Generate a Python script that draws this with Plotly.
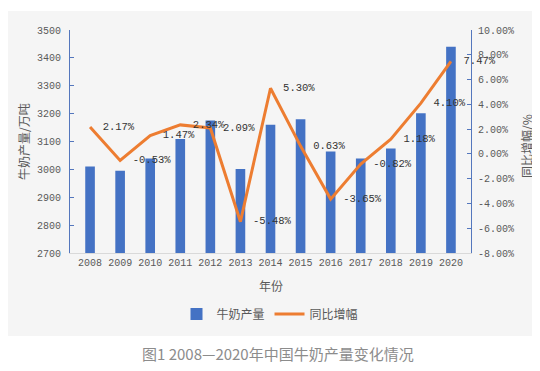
import plotly.graph_objects as go

years = ["2008", "2009", "2010", "2011", "2012", "2013", "2014",
         "2015", "2016", "2017", "2018", "2019", "2020"]
milk_output = [3010, 2995, 3039, 3109, 3175, 3001, 3160,
               3180, 3064, 3039, 3075, 3201, 3440]
growth_pct = [2.17, -0.53, 1.47, 2.34, 2.09, -5.48, 5.30,
              0.63, -3.65, -0.82, 1.18, 4.10, 7.47]
left_ticks = [2700, 2800, 2900, 3000, 3100, 3200, 3300, 3400, 3500]
right_ticks = [-8, -6, -4, -2, 0, 2, 4, 6, 8, 10]

MONO = "Liberation Mono, DejaVu Sans Mono, Noto Sans CJK SC, monospace"
CJK = "Noto Sans CJK SC, sans-serif"
BLUE = "#4472C4"
ORANGE = "#ED7D31"
AXIS_BLUE = "#5477BD"
TXT = "#595959"

fig = go.Figure()
fig.add_trace(go.Bar(
    x=years, y=milk_output, name="牛奶产量",
    marker=dict(color=BLUE, line=dict(width=0)),
    width=0.32, yaxis="y",
))
fig.add_trace(go.Scatter(
    x=years, y=growth_pct, name="同比增幅", yaxis="y2",
    mode="lines+text",
    line=dict(color=ORANGE, width=3),
    text=["  " + f"{v:.2f}%" for v in growth_pct],
    textposition="middle right",
    textfont=dict(family=MONO, size=10.5, color="#333333"),
    cliponaxis=False,
))

W, H = 540, 371
L, R, T, B = 62, 77, 22, 126
pw = W - L - R
ph = H - T - B

def px(x):
    return (x - L) / pw

def py(y):
    return (H - B - y) / ph

fig.update_layout(
    width=W, height=H,
    margin=dict(l=L, r=R, t=T, b=B, pad=0),
    paper_bgcolor="#F5F5F5",
    plot_bgcolor="#F5F5F5",
    showlegend=True,
    legend=dict(
        orientation="h", x=px(262), y=py(306), xanchor="center", yanchor="middle",
        font=dict(family=CJK, size=12, color=TXT),
        bgcolor="rgba(0,0,0,0)", itemwidth=30, tracegroupgap=0,
    ),
    xaxis=dict(
        type="category", showgrid=False, zeroline=False,
        showline=True, linecolor="#D9D9D9", linewidth=1,
        ticks="", tickfont=dict(family=MONO, size=10, color=TXT),
    ),
    yaxis=dict(
        range=[2700, 3500], tickvals=left_ticks,
        ticktext=[str(v) for v in left_ticks],
        showgrid=False, zeroline=False,
        showline=True, linecolor=AXIS_BLUE, linewidth=1,
        ticks="inside", ticklen=4, tickcolor=AXIS_BLUE,
        ticklabelstandoff=6,
        tickfont=dict(family=MONO, size=10, color=TXT),
    ),
    yaxis2=dict(
        range=[-8, 10], tickvals=right_ticks,
        ticktext=[f"{v:.2f}%" for v in right_ticks],
        overlaying="y", side="right",
        showgrid=False, zeroline=False,
        showline=True, linecolor=AXIS_BLUE, linewidth=1,
        ticks="inside", ticklen=4, tickcolor=AXIS_BLUE,
        ticklabelstandoff=4,
        tickfont=dict(family=MONO, size=10, color=TXT),
    ),
    shapes=[
        dict(type="rect", xref="paper", yref="paper", layer="below",
             x0=px(0), x1=px(W), y0=py(H), y1=py(328),
             fillcolor="white", line=dict(width=0)),
        dict(type="rect", xref="paper", yref="paper", layer="below",
             x0=px(0), x1=px(W), y0=py(3), y1=py(0),
             fillcolor="white", line=dict(width=0)),
    ],
    annotations=[
        dict(text="牛奶产量/万吨", xref="paper", yref="paper",
             x=px(15), y=py(134), textangle=-90, showarrow=False,
             xanchor="center", yanchor="middle",
             font=dict(family=CJK, size=12, color=TXT)),
        dict(text="同比增幅/%", xref="paper", yref="paper",
             x=px(518), y=py(138), textangle=-90, showarrow=False,
             xanchor="center", yanchor="middle",
             font=dict(family=CJK, size=12, color=TXT)),
        dict(text="年份", xref="paper", yref="paper",
             x=px(263), y=py(277), showarrow=False,
             xanchor="center", yanchor="middle",
             font=dict(family=CJK, size=12, color=TXT)),
        dict(text="图1 2008—2020年中国牛奶产量变化情况", xref="paper", yref="paper",
             x=px(270), y=py(345), showarrow=False,
             xanchor="center", yanchor="middle",
             font=dict(family=CJK, size=15, color="#8C8C8C")),
    ],
)

fig.write_html("out.html")
